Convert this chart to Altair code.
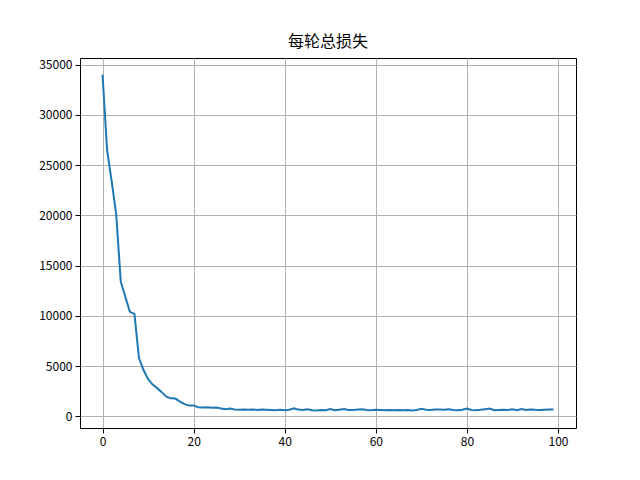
import altair as alt
import pandas as pd

epochs = list(range(100))
loss = [34000, 26500, 23400, 20100, 13400, 11900, 10400, 10200, 5800, 4600,
        3700, 3150, 2800, 2400, 1950, 1780, 1760, 1450, 1200, 1060,
        1080, 900, 880, 900, 850, 870, 780, 700, 760, 680,
        650, 660, 640, 680, 620, 660, 640, 620, 600, 650,
        610, 640, 780, 660, 620, 700, 600, 580, 620, 600,
        720, 590, 650, 720, 620, 610, 680, 700, 630, 590,
        640, 620, 600, 610, 590, 620, 600, 610, 580, 620,
        740, 640, 630, 680, 660, 640, 700, 620, 600, 640,
        760, 620, 600, 640, 700, 760, 600, 620, 640, 630,
        700, 610, 720, 620, 680, 640, 620, 650, 670, 680]

df = pd.DataFrame({"epoch": epochs, "loss": loss})

FONT = "Noto Sans CJK SC"

chart = alt.Chart(df).mark_line(color="#1f77b4", strokeWidth=2, clip=True).encode(
    x=alt.X("epoch:Q",
            scale=alt.Scale(domain=[-4.95, 103.95], nice=False, zero=False),
            axis=alt.Axis(values=[0, 20, 40, 60, 80, 100], title=None, grid=True,
                          gridColor="#b0b0b0", gridWidth=1, domain=False, format="d",
                          tickColor="black", tickSize=5, labelFontSize=12,
                          labelFont=FONT, labelColor="black", labelPadding=3)),
    y=alt.Y("loss:Q",
            scale=alt.Scale(domain=[-1170, 35670], nice=False, zero=False),
            axis=alt.Axis(values=[0, 5000, 10000, 15000, 20000, 25000, 30000, 35000],
                          title=None, grid=True, gridColor="#b0b0b0", gridWidth=1,
                          domain=False, format="d", tickColor="black", tickSize=5,
                          labelFontSize=12, labelFont=FONT, labelColor="black",
                          labelPadding=3)),
).properties(
    width=496, height=370,
    title=alt.TitleParams("每轮总损失", font=FONT, fontSize=16, fontWeight="normal",
                          color="black", anchor="middle", offset=8),
    autosize=alt.AutoSizeParams(type="none"),
    padding={"left": 72, "top": 50, "right": 56, "bottom": 44},
).configure_view(stroke="black", strokeWidth=1)

chart.save("out.html", embed_options={"renderer": "svg", "actions": False})
